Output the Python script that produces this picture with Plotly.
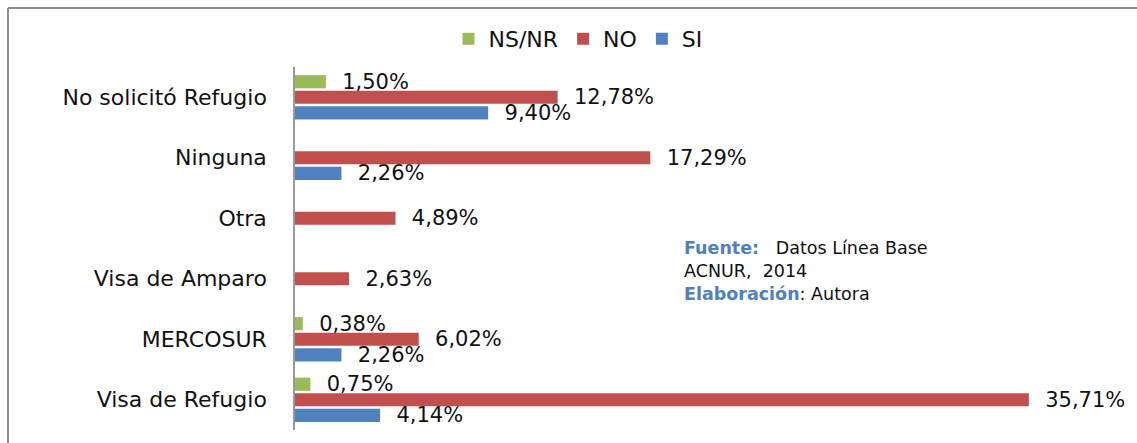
import plotly.graph_objects as go

# Survey categories (bottom to top on the chart)
categories = ["Visa de Refugio", "MERCOSUR", "Visa de Amparo", "Otra", "Ninguna", "No solicitó Refugio"]

# Percentages per answer; None where the answer has no bar
si_values = [4.14, 2.26, None, None, 2.26, 9.40]
no_values = [35.71, 6.02, 2.63, 4.89, 17.29, 12.78]
nsnr_values = [0.75, 0.38, None, None, None, 1.50]

series_names = ["SI", "NO", "NS/NR"]
series_colors = ["#4F81BD", "#C0504D", "#9BBB59"]

FONT = "DejaVu Sans"

fig = go.Figure()
for name, vals, color in zip(series_names, [si_values, no_values, nsnr_values], series_colors):
    fig.add_trace(go.Bar(
        y=categories,
        x=vals,
        name=name,
        orientation="h",
        marker=dict(color=color, line=dict(width=0)),
        text=[None if v is None else v for v in vals],
        texttemplate="  %{x:.2f}%",
        textposition="outside",
        constraintext="none",
        textfont=dict(family=FONT, size=21, color="#111111"),
        cliponaxis=False,
    ))

L, R, T, B = 295, 20, 67, 13
W, H = 1137, 443
pw, ph = W - L - R, H - T - B

def px_x(p):
    return (p - L) / pw

def px_y(p):
    return (H - B - p) / ph

fig.update_layout(
    width=W, height=H,
    margin=dict(l=L, r=R, t=T, b=B),
    paper_bgcolor="white",
    plot_bgcolor="white",
    barmode="group",
    bargap=0.23,
    bargroupgap=0.15,
    separators=",.",
    font=dict(family=FONT, size=21, color="#111111"),
    showlegend=True,
    legend=dict(
        orientation="h",
        traceorder="reversed",
        x=px_x(578), xanchor="center",
        y=px_y(18), yanchor="top",
        font=dict(family=FONT, size=22, color="#111111"),
        itemwidth=30,
        bgcolor="rgba(0,0,0,0)",
    ),
    xaxis=dict(
        range=[0, 40],
        showgrid=False, zeroline=False, showline=False,
        showticklabels=False, ticks="",
    ),
    yaxis=dict(
        showgrid=False, zeroline=False,
        showline=True, linecolor="#999999", linewidth=1.5,
        ticks="", ticklabelstandoff=22,
        tickfont=dict(family=FONT, size=22, color="#111111"),
    ),
    annotations=[dict(
        xref="paper", yref="paper",
        x=px_x(682), y=px_y(236),
        xanchor="left", yanchor="top",
        align="left",
        showarrow=False,
        font=dict(family=FONT, size=17.5, color="#111111"),
        text=("<b><span style='color:#4F81BD'>Fuente:</span></b>   Datos Línea Base<br>"
              "ACNUR,  2014<br>"
              "<b><span style='color:#4F81BD'>Elaboración</span></b>: Autora"),
    )],
    shapes=[
        dict(type="line", xref="paper", yref="paper",
             x0=px_x(8), x1=px_x(1160), y0=px_y(8), y1=px_y(8),
             line=dict(color="#8C8C8C", width=2)),
        dict(type="line", xref="paper", yref="paper",
             x0=px_x(8), x1=px_x(8), y0=px_y(8), y1=px_y(470),
             line=dict(color="#8C8C8C", width=2)),
    ],
)

fig.write_html("out.html")
